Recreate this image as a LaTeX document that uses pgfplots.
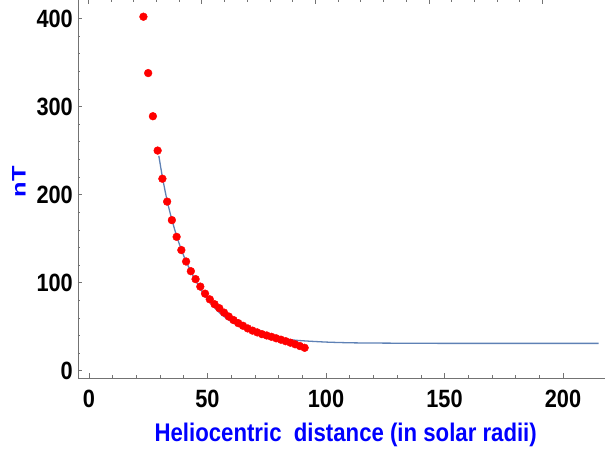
\documentclass[border=0pt]{standalone}
\usepackage{pgfplots}
\pgfplotsset{compat=1.18}
\usepackage{fontspec}
\setmainfont{Liberation Sans}
\newfontfamily\narrowsans{Liberation Sans}[FakeStretch=0.87]
\definecolor{fitblue}{rgb}{0.368417,0.506779,0.709798}
\definecolor{axisgray}{gray}{0.45}

\begin{document}
\begin{tikzpicture}
\path[use as bounding box] (-78pt,-76pt) rectangle (527pt,378pt);

% tick marks of the upper frame edge
\begin{axis}[
  scale only axis, width=527pt, height=378pt,
  at={(0pt,0pt)}, anchor=south west,
  xmin=-4.5, xmax=227.6, ymin=0, ymax=1,
  axis x line*=top, hide y axis,
  x axis line style={draw=none},
  xtick={0,50,...,200}, minor x tick num=4,
  xticklabels={}, tick align=inside,
  major tick length=4pt, minor tick length=2.5pt,
  tick style={axisgray, line width=0.6pt},
]
\end{axis}

\begin{axis}[
  scale only axis, width=527pt, height=378pt,
  at={(0pt,0pt)}, anchor=south west,
  xmin=-4.6, xmax=217.7, ymin=-8.3, ymax=421,
  axis lines=left, axis line style={-, axisgray, line width=0.8pt},
  xtick={0,50,...,200}, ytick={0,100,...,400},
  minor x tick num=4, minor y tick num=4,
  tick align=inside,
  major tick length=4.5pt, minor tick length=2.5pt,
  tick style={axisgray, line width=0.6pt},
  /pgf/number format/assume math mode=true,
  ticklabel style={font=\narrowsans\bfseries\fontsize{25}{28}\selectfont, inner sep=0pt},
  xticklabel style={anchor=north, yshift=-12pt},
  yticklabel style={anchor=east, xshift=-5pt},
  xlabel={Heliocentric\ \ distance (in solar radii)},
  ylabel={\resizebox{31pt}{13.5pt}{nT}},
  xlabel style={at={(axis description cs:0.508,-0.1685)}, anchor=base,
    font=\narrowsans\bfseries\fontsize{25.5}{30}\selectfont, text=blue, inner sep=0pt},
  ylabel style={at={(axis description cs:-0.112,0.5185)}, anchor=center,
    font=\bfseries, text=blue, inner sep=0pt},
]
% measured values
\addplot[only marks, mark=*, mark size=3.9pt, mark options={draw=red, fill=red}] coordinates {
  (23,402) (25,338) (27,289) (29,250) (31,218) (33,192) (35,171) (37,152)
  (39,137) (41,124) (43,113) (45,104) (47,95.5) (49,87.5) (51,81) (53,75.5)
  (55,71) (57,66) (59,61.5) (61,57.5) (63,54) (65,51) (67,48) (69,45.5)
  (71,43.5) (73,41.5) (75,40) (77,38.5) (79,36.8) (81,35.2) (83,33.5)
  (85,31.8) (87,30) (89,28) (91,26)
};
% fitted model
\addplot[fitblue, line width=1.3pt, smooth, no marks] coordinates {
  (29.5,244) (31,220) (33,193) (35,171.5) (37,153) (39,137.5) (41,124)
  (44,107.5) (47,93) (50,81) (55,66) (60,55.8) (65,48.4) (70,43.2)
  (75,39.6) (80,37) (85,35.2) (90,34) (100,32.5) (110,31.7) (120,31.4)
  (140,31.1) (160,31) (190,31) (215,31)
};
\end{axis}
\end{tikzpicture}
\end{document}
